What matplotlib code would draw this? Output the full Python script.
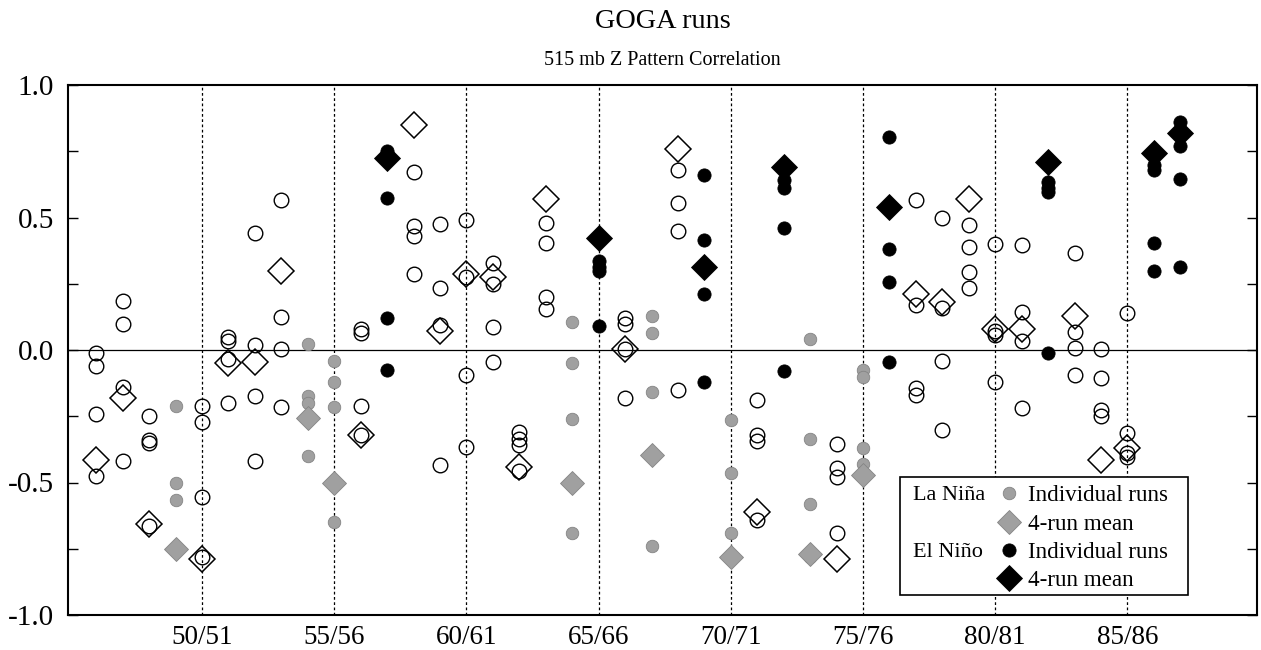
import numpy as np
import matplotlib
matplotlib.use("Agg")
import matplotlib.pyplot as plt
from matplotlib.patches import Rectangle

plt.rcParams['font.family'] = ['Liberation Serif', 'DejaVu Serif']

# ---------------- data ----------------
years = list(range(1946, 1988))
# N = neutral, L = La Nina, E = El Nino
phase = ['N', 'N', 'N', 'L', 'N', 'N', 'N', 'N', 'L', 'L',
         'N', 'E', 'N', 'N', 'N', 'N', 'N', 'N', 'L', 'E',
         'N', 'L', 'N', 'E', 'L', 'N', 'E', 'L', 'N', 'L',
         'E', 'N', 'N', 'N', 'N', 'N', 'E', 'N', 'N', 'N',
         'E', 'E']
runs = [
    [-0.01, -0.06, -0.24, -0.475],   # 1946
    [0.185, 0.10, -0.14, -0.42],     # 1947
    [-0.25, -0.34, -0.35, -0.665],   # 1948
    [-0.21, -0.50, -0.565, -0.76],   # 1949
    [-0.21, -0.27, -0.555, -0.78],   # 1950
    [0.05, 0.035, -0.035, -0.20],    # 1951
    [0.44, 0.018, -0.175, -0.42],    # 1952
    [0.565, 0.125, 0.005, -0.215],   # 1953
    [0.022, -0.175, -0.20, -0.40],   # 1954
    [-0.04, -0.12, -0.215, -0.65],   # 1955
    [0.078, 0.065, -0.21, -0.32],    # 1956
    [0.75, 0.575, 0.12, -0.075],     # 1957
    [0.67, 0.468, 0.43, 0.285],      # 1958
    [0.475, 0.235, 0.095, -0.435],   # 1959
    [0.49, 0.275, -0.095, -0.365],   # 1960
    [0.33, 0.25, 0.088, -0.045],     # 1961
    [-0.31, -0.335, -0.36, -0.455],  # 1962
    [0.48, 0.405, 0.20, 0.155],      # 1963
    [0.105, -0.05, -0.26, -0.69],    # 1964
    [0.335, 0.315, 0.30, 0.09],      # 1965
    [0.12, 0.10, 0.005, -0.18],      # 1966
    [0.13, 0.065, -0.16, -0.74],     # 1967
    [0.68, 0.555, 0.45, -0.15],      # 1968
    [0.66, 0.415, 0.21, -0.12],      # 1969
    [-0.265, -0.465, -0.69, -0.79],  # 1970
    [-0.19, -0.32, -0.345, -0.64],   # 1971
    [0.64, 0.61, 0.46, -0.08],       # 1972
    [0.04, -0.335, -0.58, -0.78],    # 1973
    [-0.355, -0.445, -0.48, -0.69],  # 1974
    [-0.075, -0.10, -0.37, -0.43],   # 1975
    [0.805, 0.38, 0.255, -0.045],    # 1976
    [0.565, 0.17, -0.145, -0.17],    # 1977
    [0.497, 0.16, -0.04, -0.30],     # 1978
    [0.47, 0.39, 0.295, 0.235],      # 1979
    [0.40, 0.07, 0.055, -0.12],      # 1980
    [0.395, 0.145, 0.035, -0.22],    # 1981
    [0.635, 0.61, 0.595, -0.01],     # 1982
    [0.367, 0.067, 0.008, -0.093],   # 1983
    [0.002, -0.105, -0.225, -0.25],  # 1984
    [0.14, -0.315, -0.39, -0.405],   # 1985
    [0.70, 0.68, 0.405, 0.30],       # 1986
    [0.86, 0.77, 0.645, 0.315],      # 1987
]
ens_mean = [-0.415, -0.18, -0.655, -0.75, -0.79, -0.05, -0.045, 0.30,
            -0.256, -0.50, -0.32, 0.725, 0.85, 0.07, 0.285, 0.275,
            -0.44, 0.57, -0.50, 0.424, 0.005, -0.395, 0.76, 0.315,
            -0.78, -0.61, 0.69, -0.77, -0.79, -0.47, 0.54, 0.21,
            0.18, 0.57, 0.08, 0.08, 0.71, 0.128, -0.415, -0.37,
            0.745, 0.82]

xtick_pos = [1950, 1955, 1960, 1965, 1970, 1975, 1980, 1985]
xtick_lab = ['50/51', '55/56', '60/61', '65/66', '70/71', '75/76', '80/81', '85/86']
ytick_pos = [-1.0, -0.5, 0.0, 0.5, 1.0]
ytick_lab = ['-1.0', '-0.5', '0.0', '0.5', '1.0']

# ---------------- styles ----------------
GRAY = '#a0a0a0'
GRAY_EDGE = '#848484'
run_style = {
    'N': dict(marker='o', ms=10.5, mfc='none', mec='black', mew=1.0),
    'L': dict(marker='o', ms=9.0, mfc=GRAY, mec=GRAY_EDGE, mew=0.6),
    'E': dict(marker='o', ms=9.5, mfc='black', mec='black', mew=0.6),
}
mean_style = {
    'N': dict(marker='D', ms=13.5, mfc='none', mec='black', mew=1.1),
    'L': dict(marker='D', ms=12.5, mfc=GRAY, mec=GRAY_EDGE, mew=0.6),
    'E': dict(marker='D', ms=13.0, mfc='black', mec='black', mew=0.6),
}

fig = plt.figure(figsize=(12.61, 6.50), dpi=100)
ax = fig.add_axes([68 / 1261, 35 / 650, 1189 / 1261, 530 / 650])

ax.set_xlim(1944.93, 1989.9)
ax.set_ylim(-1.0, 1.0)

# dotted vertical grid + zero line
for xp in xtick_pos:
    ax.axvline(xp, color='black', lw=0.9, ls=(0, (2.2, 2.0)), zorder=1)
ax.axhline(0.0, color='black', lw=0.9, zorder=1)

yrs = np.array(years)
ph = np.array(phase)
R = np.array(runs)
M = np.array(ens_mean)

for p in ['N', 'L', 'E']:
    sel = ph == p
    xs = np.repeat(yrs[sel], R.shape[1])
    ys = R[sel].ravel()
    ax.plot(xs, ys, linestyle='none', zorder=3, **run_style[p])
for p in ['N', 'L', 'E']:
    sel = ph == p
    ax.plot(yrs[sel], M[sel], linestyle='none', zorder=4, **mean_style[p])

# axes / ticks
ax.set_xticks(xtick_pos)
ax.set_xticklabels(xtick_lab, fontsize=19.5)
ax.set_yticks(ytick_pos)
ax.set_yticklabels(ytick_lab, fontsize=21)
ax.set_yticks(np.arange(-1.0, 1.01, 0.25), minor=True)
ax.tick_params(axis='x', which='both', length=0, pad=7)
ax.tick_params(axis='y', which='both', direction='in', length=7, width=1.0,
               left=True, right=True, pad=10)
for s in ax.spines.values():
    s.set_linewidth(1.5)

# titles
fig.text(662.5 / 1261, 1 - 28 / 650, 'GOGA runs', ha='center', va='baseline', fontsize=20.3)
fig.text(662.5 / 1261, 1 - 65 / 650, '515 mb Z Pattern Correlation', ha='center',
         va='baseline', fontsize=14.5)

# legend (drawn in axes fraction)
tr = ax.transAxes
ax.add_patch(Rectangle((0.6997, 0.0377), 0.942 - 0.6997, 0.2604 - 0.0377,
                       transform=tr, facecolor='white', edgecolor='black',
                       lw=1.2, zorder=6))
rows = [0.2302, 0.1755, 0.1226, 0.0698]
leg_handles = [run_style['L'], mean_style['L'], run_style['E'], mean_style['E']]
leg_labels = ['Individual runs', '4-run mean', 'Individual runs', '4-run mean']
for ry, st, lab in zip(rows, leg_handles, leg_labels):
    ax.plot([0.7914], [ry], transform=tr, linestyle='none', clip_on=False,
            zorder=7, **st)
    ax.text(0.8074, ry, lab, transform=tr, ha='left', va='center_baseline',
            fontsize=16.6, zorder=7)
ax.text(0.7107, rows[0], 'La Niña', transform=tr, ha='left', va='center_baseline',
        fontsize=16, zorder=7)
ax.text(0.7107, rows[2], 'El Niño', transform=tr, ha='left', va='center_baseline',
        fontsize=16, zorder=7)

fig.savefig('out.png', dpi=100)
